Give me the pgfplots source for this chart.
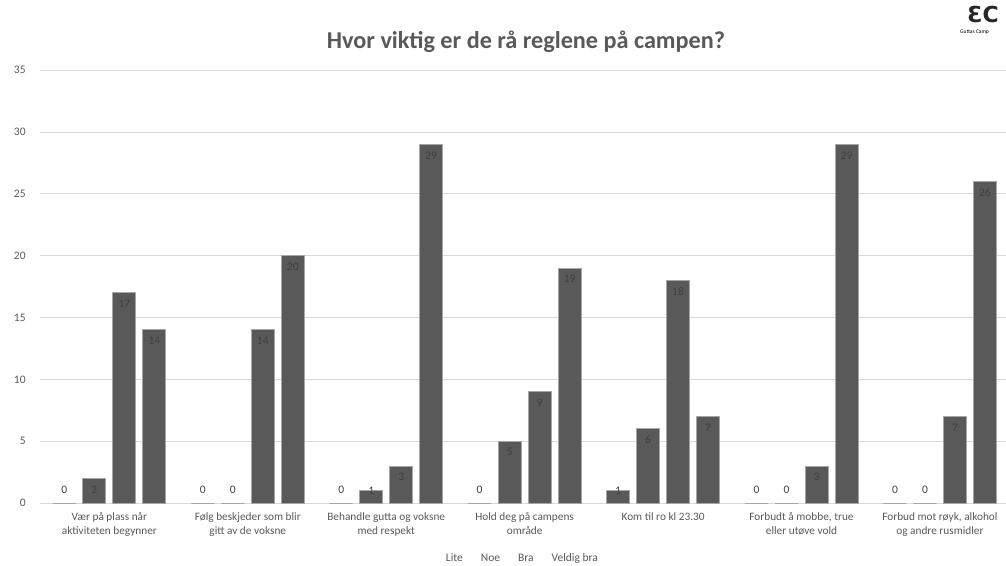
\documentclass[border=0pt]{standalone}
\usepackage{fontspec}
\setmainfont{Carlito}
\newfontfamily\dejavu{DejaVu Sans}
\usepackage{pgfplots}
\pgfplotsset{compat=1.18}
\definecolor{barfill}{HTML}{595959}
\definecolor{barline}{HTML}{A6A6A6}
\definecolor{txt}{HTML}{595959}
\definecolor{gridc}{HTML}{D9D9D9}
\definecolor{lab}{HTML}{404040}
\pgfplotsset{mybar/.style={fill=barfill, draw=barline, line width=1pt}}
\begin{document}
\begin{tikzpicture}[x=1pt,y=1pt]
\useasboundingbox (0,0) rectangle (1006,565);
\node[font=\fontsize{24.2}{28}\selectfont\bfseries, text=txt] at (526,523) {Hvor viktig er de rå reglene på campen?};
\node[font=\dejavu\fontsize{22}{24}\selectfont\bfseries, text=black!85, inner sep=0pt] at (983,551) {ƐC};
\node[font=\fontsize{5.5}{6}\selectfont, text=black, anchor=west, inner sep=0pt] at (960,533) {Guttas Camp};
\begin{axis}[
  at={(29,50)}, anchor=south west,
  scale only axis, width=969pt, height=433pt,
  xmin=-0.5, xmax=6.5, ymin=0, ymax=35,
  ytick={0,5,...,35},
  xtick={0,...,6},
  xticklabels={{Vær på plass når\\aktiviteten begynner},{Følg beskjeder som blir\\gitt av de voksne},{Behandle gutta og voksne\\med respekt},{Hold deg på campens\\område},{Kom til ro kl 23.30},{Forbudt å mobbe, true\\eller utøve vold},{Forbud mot røyk, alkohol\\og andre rusmidler}},
  xticklabel style={align=center, text=txt, font=\fontsize{11.3}{13.7}\selectfont, yshift=-6pt},
  yticklabel style={text=txt, font=\fontsize{11.5}{14}\selectfont, xshift=-11pt},
  /pgf/number format/assume math mode=true,
  ymajorgrids, grid style={gridc, line width=0.8pt},
  axis lines*=left, axis line style={draw=none},
  major tick length=0pt, tick style={draw=none},
  ybar=7pt, bar width=23pt,
  nodes near coords,
  visualization depends on={y \as \rawy},
  every node near coord/.append style={anchor=center, font=\fontsize{11.5}{14}\selectfont, text=lab,
     yshift={\rawy<0.5 ? 13 : (\rawy<1.5 ? 0 : -11)}},
  legend style={at={(0.49,-0.128)}, anchor=center, draw=none, fill=none,
     legend columns=-1, font=\fontsize{11.5}{14}\selectfont, text=txt,
     nodes={text height=8pt, text depth=2pt},
     /tikz/every odd column/.append style={column sep=14pt}},
  legend image code/.code={},
]
\addplot[mybar] coordinates {(0,0) (1,0) (2,0) (3,0) (4,1) (5,0) (6,0)};
\addplot[mybar] coordinates {(0,2) (1,0) (2,1) (3,5) (4,6) (5,0) (6,0)};
\addplot[mybar] coordinates {(0,17) (1,14) (2,3) (3,9) (4,18) (5,3) (6,7)};
\addplot[mybar] coordinates {(0,14) (1,20) (2,29) (3,19) (4,7) (5,29) (6,26)};
\legend{Lite,Noe,Bra,Veldig bra}
\end{axis}
\end{tikzpicture}
\end{document}
